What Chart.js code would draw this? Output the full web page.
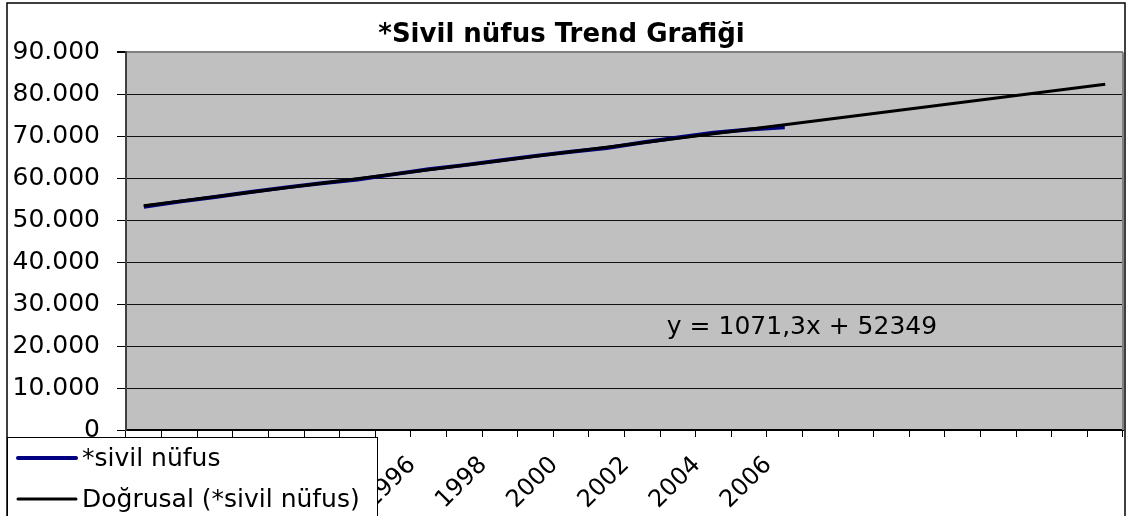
<!DOCTYPE html>
<html><head><meta charset="utf-8">
<script src="https://cdn.jsdelivr.net/npm/chart.js@4.4.1/dist/chart.umd.min.js"></script>
<style>html,body{margin:0;padding:0;background:#fff;overflow:hidden}#wrap{width:1129px;height:516px;position:relative}</style>
</head><body><div id="wrap"><canvas id="c" width="1129" height="516"></canvas></div>
<script>
// Categories: years (data years + forecast period of the trendline)
const years = ['1989','1990','1991','1992','1993','1994','1995','1996','1997','1998','1999','2000','2001','2002','2003','2004','2005','2006','2007','2008','2009','2010','2011','2012','2013','2014','2015','2016'];
// Series: civil population (thousands)
const sivilNufus = [53200, 54400, 55500, 56700, 57800, 58800, 59700, 60900, 62100, 63100, 64200, 65300, 66300, 67200, 68500, 69700, 70800, 71600, 72100];
// Linear trend line end points
const trendYears = ['1989', '2016'];
const trendValues = [53420, 82345];
// Y tick values
const yTickValues = [0, 10000, 20000, 30000, 40000, 50000, 60000, 70000, 80000, 90000];
const chartTitle = '*Sivil nüfus Trend Grafiği';
const equationText = 'y = 1071,3x + 52349';
const seriesNames = ['*sivil nüfus', 'Doğrusal (*sivil nüfus)'];
const lastLabeledIndex = 17;

const FONT = '"DejaVu Sans", "Liberation Sans", Arial, sans-serif';

const framePlugin = {
  id: 'frame',
  beforeDraw(chart) {
    const {ctx, chartArea: a} = chart;
    ctx.save();
    ctx.fillStyle = '#fff';
    ctx.fillRect(0, 0, chart.width, chart.height);
    ctx.fillStyle = '#c0c0c0';
    ctx.fillRect(a.left, a.top, a.right - a.left, a.bottom - a.top);
    ctx.strokeStyle = '#000';
    ctx.lineWidth = 1.5;
    ctx.strokeRect(7, 3, 1118, 600);
    ctx.restore();
  },
  beforeDatasetsDraw(chart) {
    const {ctx, chartArea: a} = chart;
    ctx.save();
    ctx.strokeStyle = '#808080';
    ctx.lineWidth = 2;
    ctx.beginPath();
    ctx.moveTo(a.right, a.top);
    ctx.lineTo(a.right, a.bottom);
    ctx.stroke();
    ctx.restore();
  },
  afterDraw(chart) {
    const {ctx} = chart;
    const xs = chart.scales.x, ys = chart.scales.y;
    ctx.save();
    // equation text
    ctx.font = '25px ' + FONT;
    ctx.fillStyle = '#000';
    ctx.textAlign = 'left';
    ctx.textBaseline = 'middle';
    ctx.fillText(equationText, xs.getPixelForValue(14.69), ys.getPixelForValue(24300));
    // legend box
    ctx.fillStyle = '#fff';
    ctx.fillRect(7, 437, 370, 100);
    ctx.strokeStyle = '#000';
    ctx.lineWidth = 1;
    ctx.strokeRect(7.5, 437.5, 370, 100);
    const ds = chart.data.datasets;
    const rows = [458, 499];
    seriesNames.forEach((name, i) => {
      const d = ds.find(s => s.label === name);
      ctx.strokeStyle = d.borderColor;
      ctx.lineWidth = i === 0 ? 4 : 3;
      ctx.lineCap = 'round';
      ctx.beginPath();
      ctx.moveTo(18, rows[i]);
      ctx.lineTo(76, rows[i]);
      ctx.stroke();
      ctx.fillStyle = '#000';
      ctx.fillText(name, 82, rows[i] + 1);
    });
    ctx.restore();
  }
};

new Chart(document.getElementById('c'), {
  type: 'line',
  data: {
    labels: years,
    datasets: [
      {
        label: seriesNames[0],
        data: sivilNufus,
        borderColor: '#000080',
        borderWidth: 4,
        pointRadius: 0,
        tension: 0,
        order: 1
      },
      {
        label: seriesNames[1],
        data: trendYears.map((y, i) => ({x: y, y: trendValues[i]})),
        borderColor: '#000000',
        borderWidth: 3,
        pointRadius: 0,
        tension: 0,
        order: 0
      }
    ]
  },
  options: {
    responsive: false,
    animation: false,
    devicePixelRatio: 1,
    layout: {padding: {top: 4, right: 6, left: 0, bottom: 0}},
    plugins: {
      legend: {display: false},
      tooltip: {enabled: false},
      title: {
        display: true,
        text: chartTitle,
        color: '#000',
        font: {family: FONT, size: 26, weight: 'bold'},
        padding: {top: 16, bottom: 1}
      }
    },
    scales: {
      x: {
        type: 'category',
        offset: true,
        grid: {offset: true, drawOnChartArea: false, drawTicks: true, tickLength: 7, color: '#000', lineWidth: 1},
        border: {color: '#000', width: 2},
        ticks: {
          autoSkip: false, maxRotation: 45, minRotation: 45, padding: 14, labelOffset: 19,
          color: '#000', font: {family: FONT, size: 24},
          callback: (v, i) => (i % 2 === 1 && i <= lastLabeledIndex) ? years[i] : ''
        },
        afterFit: s => { s.height = 86; s.paddingLeft = 0; s.paddingRight = 0; }
      },
      y: {
        min: 0, max: 90000,
        afterBuildTicks: s => { s.ticks = yTickValues.map(v => ({value: v})); },
        grid: {
          color: c => c.tick && c.tick.value === 90000 ? '#808080' : '#111',
          lineWidth: c => c.tick && c.tick.value === 90000 ? 2 : 1,
          tickColor: '#000', tickLength: 9
        },
        border: {color: '#404040', width: 2},
        ticks: {
          padding: 17, color: '#000', font: {family: FONT, size: 25},
          callback: v => v === 0 ? '0' : (v / 1000) + '.000'
        },
        afterFit: s => { s.width = 126; }
      }
    }
  },
  plugins: [framePlugin]
});
</script>
</body></html>
